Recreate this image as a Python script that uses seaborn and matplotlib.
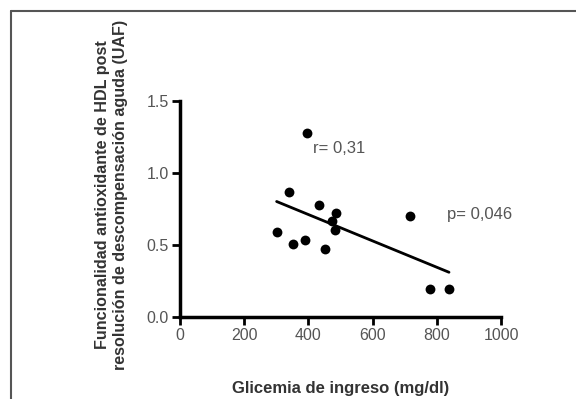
import numpy as np
import pandas as pd
import matplotlib
matplotlib.use("Agg")
import matplotlib.pyplot as plt
import seaborn as sns
from matplotlib.lines import Line2D

# valores
glicemia = [396, 340, 301, 353, 389, 433, 451, 485, 472, 482, 716, 779, 838]
uaf = [1.28, 0.87, 0.59, 0.51, 0.535, 0.78, 0.47, 0.72, 0.665, 0.605, 0.70, 0.197, 0.197]
x_ticks = [0, 200, 400, 600, 800, 1000]
y_ticks = [0.0, 0.5, 1.0, 1.5]

df = pd.DataFrame({"glicemia": glicemia, "uaf": uaf})

sns.set_style("ticks")
plt.rcParams['font.family'] = ['Liberation Sans', 'DejaVu Sans']

fig = plt.figure(figsize=(5.76, 3.99), dpi=100)
ax = fig.add_axes([0.3125, 0.2055, 0.5573, 0.5414])

sns.regplot(data=df, x="glicemia", y="uaf", ci=None, ax=ax,
            scatter_kws={"s": 50, "color": "black", "linewidths": 0, "alpha": 1},
            line_kws={"color": "black", "lw": 2})

ax.set_xlim(0, 1000)
ax.set_ylim(0, 1.5)
ax.set_xticks(x_ticks)
ax.set_yticks(y_ticks)
ax.set_yticklabels([f"{v:.1f}" for v in y_ticks])
ax.tick_params(axis="both", length=6, width=2, color="black",
               labelsize=11.5, labelcolor="#555555", pad=2)
sns.despine(ax=ax)
for s in ["left", "bottom"]:
    ax.spines[s].set_linewidth(2.5)
    ax.spines[s].set_color("black")

ax.set_xlabel("Glicemia de ingreso (mg/dl)", fontsize=12, fontweight="bold",
              color="#333333")
ax.xaxis.set_label_coords(0.5, -0.295)
ax.set_ylabel("Funcionalidad antioxidante de HDL post\n"
              "resolución de descompensación aguda (UAF)",
              fontsize=11.6, fontweight="bold", color="#333333",
              linespacing=1.2)
ax.yaxis.set_label_coords(-0.163, 0.565)

ax.text(413, 1.17, "r= 0,31", fontsize=12, color="#555555", va="center")
ax.text(832, 0.71, "p= 0,046", fontsize=12, color="#555555", va="center")

# marco de la figura
fig.add_artist(Line2D([11 / 576, 11 / 576], [0, 1 - 11 / 399], color="#555555", lw=1.5))
fig.add_artist(Line2D([11 / 576, 1], [1 - 11 / 399, 1 - 11 / 399], color="#555555", lw=1.5))

fig.savefig("out.png", dpi=100)
